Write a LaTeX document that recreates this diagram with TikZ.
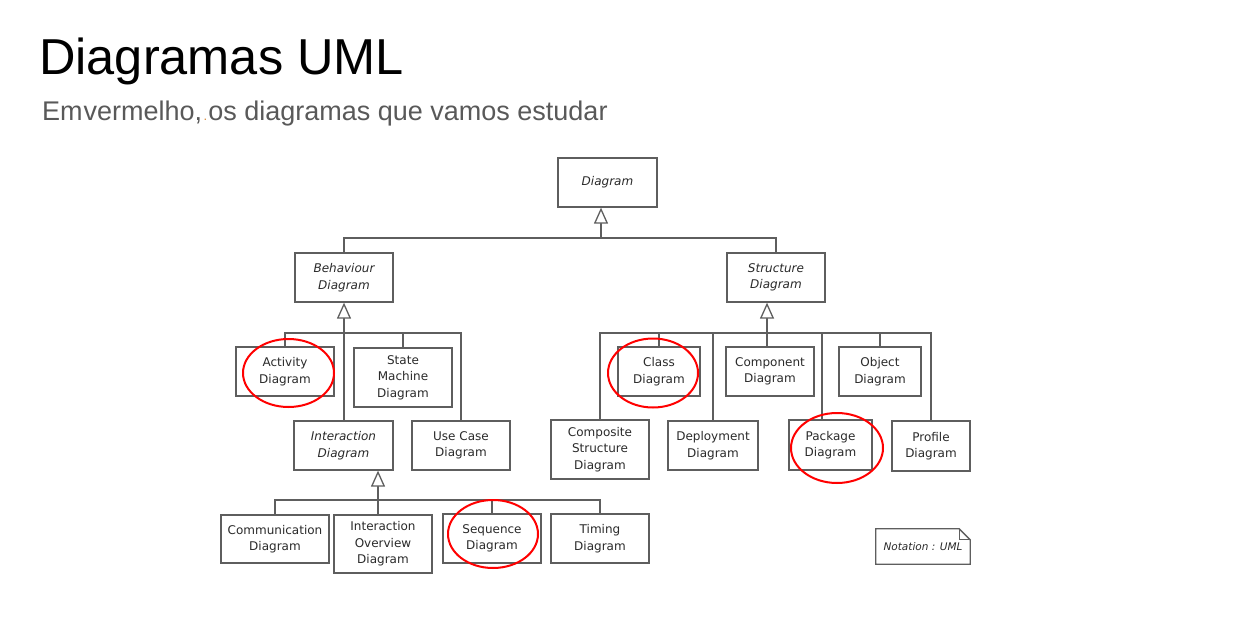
\documentclass[tikz,border=0pt]{standalone}
\usepackage{fontspec}
\setmainfont{Liberation Sans}
\newfontfamily\boxfont{DejaVu Sans}
\usetikzlibrary{arrows.meta,calc}
\definecolor{linec}{HTML}{5E5E5E}
\definecolor{textc}{HTML}{2A2A2A}
\definecolor{subc}{HTML}{595959}
\definecolor{dotc}{HTML}{D98A3A}
\begin{document}
\begin{tikzpicture}[x=1pt,y=-1pt,
  box/.style={draw=linec, line width=1.3pt, inner sep=0pt, align=center, text=textc,
    font=\boxfont\fontsize{12}{16.5}\selectfont},
  abox/.style={box, font=\boxfont\itshape\fontsize{12}{16.5}\selectfont},
  conn/.style={draw=linec, line width=1.3pt},
  gen/.style={conn, -{Triangle[length=16pt,width=14pt,fill=white,line width=1.3pt]}},
  hl/.style={draw=red, line width=2pt},
  sz/.style 2 args={minimum width=#1pt, minimum height=#2pt}]
\fill[white] (0,0) rectangle (1242,629);
\useasboundingbox (0,0) rectangle (1242,629);

% titles
\node[anchor=base west, inner sep=0pt, font=\fontsize{50.5}{60}\selectfont] (title) at (39,74) {Diagramas UML};
\node[anchor=base west, inner sep=0pt, text=subc, font=\fontsize{27}{30}\selectfont] (sub) at (42,120)
  {Em\hspace{1pt}vermelho,\hspace{1.5pt}{\color{dotc}\fontsize{13}{13}\selectfont.}\hspace{1pt}os diagramas que vamos estudar};

% boxes
\node[abox, sz={99}{49}] (diag) at (607.5,182.5) {Diagram};
\node[abox, sz={98}{49}] (beh) at (344,277.5) {Behaviour\\Diagram};
\node[abox, sz={98}{49}] (str) at (776,277.5) {Structure\\Diagram};
\node[box, sz={98}{49}] (act) at (285,371.5) {Activity\\Diagram};
\node[box, sz={98}{59}] (sm) at (403,377.5) {State\\Machine\\Diagram};
\node[abox, sz={99}{49}] (inter) at (343.5,445.5) {Interaction\\Diagram};
\node[box, sz={98}{49}] (uc) at (461,445.5) {Use Case\\Diagram};
\node[box, sz={108}{48}] (comm) at (275,539) {Communication\\Diagram};
\node[box, sz={98}{58}] (io) at (383,544) {Interaction\\Overview\\Diagram};
\node[box, sz={98}{49}] (seq) at (492,538.5) {Sequence\\Diagram};
\node[box, sz={98}{49}] (tim) at (600,538.5) {Timing\\Diagram};
\node[box, sz={82}{49}] (cls) at (659,371.5) {Class\\Diagram};
\node[box, sz={98}{59}] (cs) at (600,449.5) {Composite\\Structure\\Diagram};
\node[box, sz={90}{49}] (dep) at (713,445.5) {Deployment\\Diagram};
\node[box, sz={88}{49}] (cmp) at (770,371.5) {Component\\Diagram};
\node[box, sz={82}{49}] (obj) at (880,371.5) {Object\\Diagram};
\node[box, sz={83}{50}] (pkg) at (830.5,445) {Package\\Diagram};
\node[box, sz={78}{50}] (prof) at (931,446) {Profile\\Diagram};

% note
\node[inner sep=0pt, sz={94}{35}, text=textc, font=\boxfont\itshape\fontsize{10.5}{13}\selectfont] (note) at (923,546.5) {Notation : UML};
\draw[conn, line join=miter] (note.north west) -- ($(note.north east)+(-11,0)$) -- ($(note.north east)+(0,11)$) -- (note.south east) -- (note.south west) -- cycle;
\draw[conn, line width=1pt] ($(note.north east)+(-11,0)$) -- ($(note.north east)+(-11,11)$) -- ($(note.north east)+(0,11)$);

% junctions
\coordinate (j0) at (601,238);
\coordinate (jb) at (344,333);
\coordinate (ji) at (378,500);
\coordinate (js) at (767,333);
\coordinate (kp) at (822,333);

% top level
\draw[gen] (j0) -- (j0 |- diag.south);
\draw[conn] (beh.north) |- (j0) -| (str.north);

% behaviour
\draw[gen] (jb) -- (beh.south);
\draw[conn] (act.north) |- (jb) -| (uc.north);
\draw[conn] (sm.north) -- (sm.north |- jb);
\draw[conn] (jb) -- (jb |- inter.north);

% interaction
\draw[gen] (ji) -- (ji |- inter.south);
\draw[conn] (comm.north) |- (ji) -| (tim.north);
\draw[conn] (ji) -- (ji |- io.north);
\draw[conn] (seq.north) -- (seq.north |- ji);

% structure
\draw[gen] (js) -- (js |- str.south);
\draw[conn] (cs.north) |- (js) -| (prof.north);
\draw[conn] (cls.north) -- (cls.north |- js);
\draw[conn] (dep.north) -- (dep.north |- js);
\draw[conn] (js) -- (js |- cmp.north);
\draw[conn] (kp) -- (kp |- pkg.north);
\draw[conn] (obj.north) -- (obj.north |- js);

% red highlights
\draw[hl] (288.5,373) ellipse [x radius=45.5, y radius=34];
\draw[hl] (493,534) ellipse [x radius=45, y radius=34];
\draw[hl] (653,373) ellipse [x radius=45, y radius=34.5];
\draw[hl] (837,448) ellipse [x radius=46, y radius=35];
\end{tikzpicture}
\end{document}
